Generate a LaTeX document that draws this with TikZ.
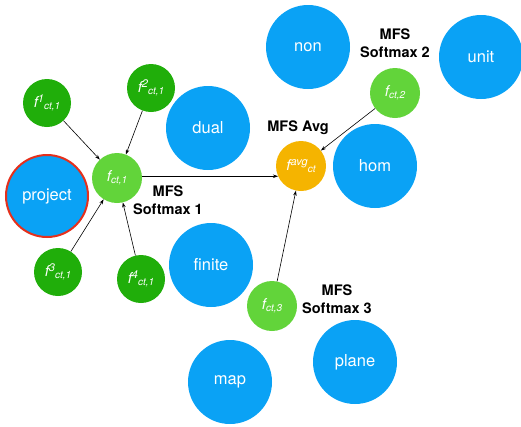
\documentclass[tikz,border=0pt]{standalone}
\usepackage{fontspec}
\setmainfont{TeX Gyre Heros}
\usetikzlibrary{arrows.meta}
\definecolor{skyb}{HTML}{0AA2F5}
\definecolor{dgreen}{HTML}{20AE0A}
\definecolor{lgreen}{HTML}{62D43A}
\definecolor{avgor}{HTML}{F5B400}
\definecolor{redring}{HTML}{E5301C}
\newcommand{\myup}[1]{\raisebox{4.5pt}{\fontsize{11}{11}\selectfont #1}}
\newcommand{\mydn}[1]{\raisebox{-2pt}{\fontsize{10}{10}\selectfont #1}}
\tikzset{
  word/.style={circle,fill=skyb,minimum size=84pt,inner sep=0pt,text=white,font=\fontsize{16.5}{18}\selectfont},
  feat/.style={circle,fill=dgreen,minimum size=48pt,inner sep=0pt,text=white,font=\fontsize{15}{15}\selectfont\itshape},
  soft/.style={circle,fill=lgreen,minimum size=50pt,inner sep=0pt,text=white,font=\fontsize{15}{15}\selectfont\itshape},
  avg/.style={circle,fill=avgor,minimum size=50pt,inner sep=0pt,text=white,font=\fontsize{15}{15}\selectfont\itshape},
  lab/.style={align=center,font=\fontsize{14.5}{18}\selectfont\bfseries,text=black},
  arr/.style={-{Stealth[length=5pt,width=3.5pt]},line width=0.6pt,black}
}
\begin{document}
\begin{tikzpicture}[x=1pt,y=-1pt]
\useasboundingbox (0,0) rectangle (521,426);
% word circles
\node[word,draw=redring,line width=2pt,minimum size=82pt] (project) at (47,196) {project};
\node[word] (dual) at (208,128) {dual};
\node[word] (finite) at (211,265) {finite};
\node[word] (non) at (308,47) {non};
\node[word] (unit) at (481,57) {unit};
\node[word] (hom) at (375,166) {hom};
\node[word] (plane) at (355,362) {plane};
\node[word] (map) at (230,382) {map};
% feature circles
\node[feat] (f1) at (47,103) {f\myup{1}\mydn{ct,1}};
\node[feat] (f2) at (151,88) {f\myup{2}\mydn{ct,1}};
\node[feat] (f3) at (58,272) {f\myup{3}\mydn{ct,1}};
\node[feat] (f4) at (141,279) {f\myup{4}\mydn{ct,1}};
\node[soft] (fc1) at (117,178) {f\mydn{ct,1}};
\node[soft] (fc2) at (395,93) {f\mydn{ct,2}};
\node[soft] (fc3) at (272,306) {f\mydn{ct,3}};
\node[avg] (favg) at (301,166) {f\myup{avg}\mydn{ct}};
% labels
\node[lab] (l1) at (168,200) {MFS\\Softmax 1};
\node[lab] (l2) at (395,43) {MFS\\Softmax 2};
\node[lab] (l3) at (337,299) {MFS\\Softmax 3};
\node[lab] (lavg) at (298,128) {MFS Avg};
% arrows
\draw[arr] (f1) -- (fc1);
\draw[arr] (f2) -- (fc1);
\draw[arr] (f3) -- (fc1);
\draw[arr] (f4) -- (fc1);
\draw[arr] (favg.204 -| fc1.east) -- (favg.204);
\draw[arr] (fc2) -- (favg);
\draw[arr] (fc3) -- (favg);
\end{tikzpicture}
\end{document}
